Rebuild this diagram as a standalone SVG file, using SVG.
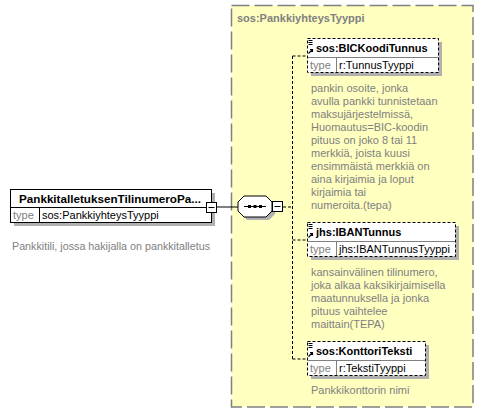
<svg xmlns="http://www.w3.org/2000/svg" width="483" height="413" viewBox="0 0 483 413">
<defs>
<style>
.bg{fill:#ffffff}
.grp{fill:#ffffc0;stroke:#808080;stroke-width:1.5;stroke-dasharray:18 5}
.shadow{fill:#b0b0b0}
.box{fill:#ffffff;stroke:#000000;stroke-width:1}
.dbox{fill:#ffffff;stroke:#000000;stroke-width:1;stroke-dasharray:3 2}
.sep{stroke:#000000;stroke-width:1;fill:none}
.isep{stroke:#808080;stroke-width:1;fill:none}
.conn{stroke:#000000;stroke-width:1;fill:none}
.dconn{stroke:#000000;stroke-width:1;fill:none;stroke-dasharray:3 2}
.title{font-family:"Liberation Sans",Arial,sans-serif;font-size:11px;font-weight:bold;fill:#000000}
.gtitle{font-family:"Liberation Sans",Arial,sans-serif;font-size:11px;font-weight:bold;fill:#808080}
.tlabel{font-family:"Liberation Sans",Arial,sans-serif;font-size:11px;fill:#808080}
.tval{font-family:"Liberation Sans",Arial,sans-serif;font-size:11px;fill:#000000}
.desc{font-family:"Liberation Sans",Arial,sans-serif;font-size:11px;fill:#808080}
</style>
<g id="elicon">
<path d="M1.5 1.5h4M1.5 3.5h4M1.5 5.5h4" stroke="#000" stroke-width="1"/>
<path d="M1.5 14.5l4-4M3 10.5h2.5v2.5" stroke="#000" stroke-width="1.2" fill="none"/>
</g>
</defs>
<rect class="bg" x="0" y="0" width="483" height="413"/>

<g id="group-PankkiyhteysTyyppi">
<rect class="grp" x="231.5" y="5.5" width="241.5" height="401.5"/>
<text class="gtitle" x="237" y="22">sos:PankkiyhteysTyyppi</text>
</g>

<g id="connectors">
<line class="conn" x1="216" y1="207" x2="238" y2="207"/>
<line class="dconn" x1="283" y1="207" x2="293" y2="207"/>
<line class="dconn" x1="292.5" y1="56" x2="292.5" y2="359"/>
<line class="dconn" x1="292.5" y1="56" x2="307" y2="56"/>
<line class="dconn" x1="292.5" y1="240" x2="307" y2="240"/>
<line class="dconn" x1="292.5" y1="359" x2="307" y2="359"/>
</g>

<g id="node-main">
<rect class="shadow" x="14" y="193" width="201" height="33"/>
<rect class="box" x="10.5" y="189.5" width="201" height="33"/>
<line class="sep" x1="10.5" y1="207.5" x2="211.5" y2="207.5"/>
<line class="sep" x1="39.5" y1="207.5" x2="39.5" y2="222.5"/>
<text class="title" x="110" y="203" text-anchor="middle" textLength="182" lengthAdjust="spacingAndGlyphs">PankkitalletuksenTilinumeroPa...</text>
<text class="tlabel" x="13" y="219">type</text>
<text class="tval" x="42" y="219">sos:PankkiyhteysTyyppi</text>
<rect class="box" x="206.5" y="202.5" width="10" height="10"/>
<line class="sep" x1="208.5" y1="207.5" x2="214.5" y2="207.5"/>
<text class="desc" x="12" y="250" textLength="198" lengthAdjust="spacingAndGlyphs">Pankkitili, jossa hakijalla on pankkitalletus</text>
</g>

<g id="node-sequence">
<polygon class="shadow" points="247,199 269,199 275,205 275,214 269,220 247,220 241,214 241,205"/>
<polygon class="box" points="244,196 266,196 272,202 272,211 266,217 244,217 238,211 238,202"/>
<line class="sep" x1="244" y1="206.5" x2="266" y2="206.5"/>
<rect x="248" y="205" width="3" height="3" fill="#000"/>
<rect x="253.5" y="205" width="3" height="3" fill="#000"/>
<rect x="259" y="205" width="3" height="3" fill="#000"/>
<rect class="box" x="272.5" y="201.5" width="10" height="10"/>
<line class="sep" x1="274.5" y1="206.5" x2="280.5" y2="206.5"/>
</g>

<g id="node-BICKoodiTunnus">
<rect class="shadow" x="311" y="42" width="131" height="34"/>
<rect class="dbox" x="307.5" y="38.5" width="131" height="34"/>
<line class="isep" x1="308" y1="57.5" x2="438" y2="57.5"/>
<line class="isep" x1="336.5" y1="58" x2="336.5" y2="72"/>
<use href="#elicon" x="307" y="39"/>
<text class="title" x="316" y="52">sos:BICKoodiTunnus</text>
<text class="tlabel" x="310" y="69">type</text>
<text class="tval" x="339" y="69">r:TunnusTyyppi</text>
<text class="desc" x="311" y="92">pankin osoite, jonka</text>
<text class="desc" x="311" y="105">avulla pankki tunnistetaan</text>
<text class="desc" x="311" y="118">maksujärjestelmissä,</text>
<text class="desc" x="311" y="131">Huomautus=BIC-koodin</text>
<text class="desc" x="311" y="144">pituus on joko 8 tai 11</text>
<text class="desc" x="311" y="157">merkkiä, joista kuusi</text>
<text class="desc" x="311" y="170">ensimmäistä merkkiä on</text>
<text class="desc" x="311" y="183">aina kirjaimia ja loput</text>
<text class="desc" x="311" y="196">kirjaimia tai</text>
<text class="desc" x="311" y="209">numeroita.(tepa)</text>
</g>

<g id="node-IBANTunnus">
<rect class="shadow" x="311" y="226" width="148" height="34"/>
<rect class="dbox" x="307.5" y="222.5" width="148" height="34"/>
<line class="isep" x1="308" y1="241.5" x2="455" y2="241.5"/>
<line class="isep" x1="336.5" y1="242" x2="336.5" y2="256"/>
<use href="#elicon" x="307" y="223"/>
<text class="title" x="316" y="236">jhs:IBANTunnus</text>
<text class="tlabel" x="310" y="253">type</text>
<text class="tval" x="339" y="253">jhs:IBANTunnusTyyppi</text>
<text class="desc" x="311" y="276">kansainvälinen tilinumero,</text>
<text class="desc" x="311" y="289">joka alkaa kaksikirjaimisella</text>
<text class="desc" x="311" y="302">maatunnuksella ja jonka</text>
<text class="desc" x="311" y="315">pituus vaihtelee</text>
<text class="desc" x="311" y="328">maittain(TEPA)</text>
</g>

<g id="node-KonttoriTeksti">
<rect class="shadow" x="311" y="345" width="118" height="34"/>
<rect class="dbox" x="307.5" y="341.5" width="118" height="34"/>
<line class="isep" x1="308" y1="360.5" x2="425" y2="360.5"/>
<line class="isep" x1="336.5" y1="361" x2="336.5" y2="375"/>
<use href="#elicon" x="307" y="342"/>
<text class="title" x="316" y="355">sos:KonttoriTeksti</text>
<text class="tlabel" x="310" y="372">type</text>
<text class="tval" x="339" y="372">r:TekstiTyyppi</text>
<text class="desc" x="311" y="394">Pankkikonttorin nimi</text>
</g>
</svg>
